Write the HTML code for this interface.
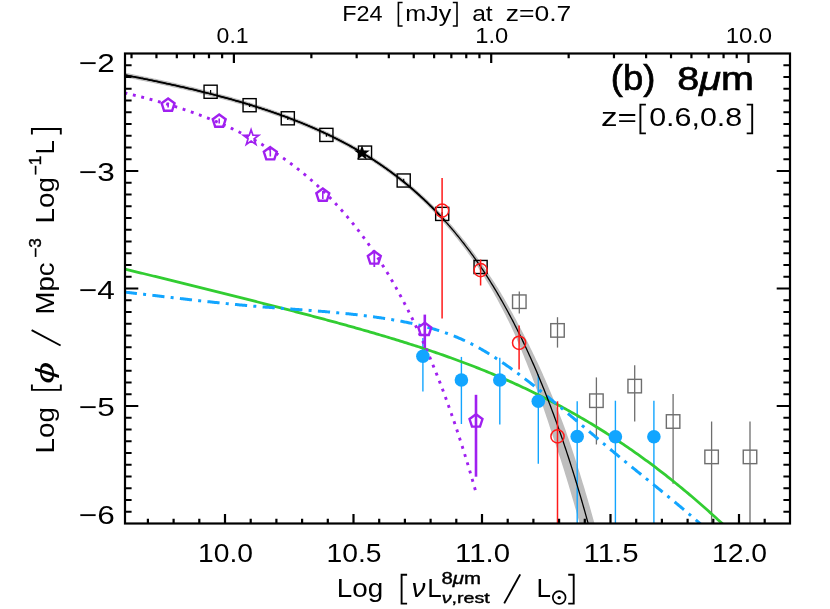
<!DOCTYPE html>
<html><head><meta charset="utf-8"><title>8um LF</title>
<style>html,body{margin:0;padding:0;background:#fff}svg{display:block;will-change:transform;transform:translateZ(0)}text{font-family:"Liberation Sans",sans-serif;fill:#000}</style></head><body>
<svg width="830" height="609" viewBox="0 0 830 609">
<rect width="830" height="609" fill="#fff"/>
<defs><clipPath id="c"><rect x="125" y="53.5" width="665" height="470"/></clipPath></defs>
<g clip-path="url(#c)" fill="none" stroke-linecap="butt">
<polygon points="121.57,76.76 122.54,76.94 123.51,77.13 124.48,77.31 125.45,77.5 126.42,77.68 127.38,77.87 128.35,78.05 129.32,78.24 130.29,78.43 131.26,78.62 132.23,78.8 133.2,78.99 134.17,79.18 135.14,79.37 136.11,79.56 137.08,79.75 138.04,79.94 139.01,80.13 139.98,80.33 140.95,80.52 141.92,80.71 142.89,80.9 143.86,81.1 144.83,81.29 145.8,81.49 146.76,81.68 147.73,81.88 148.7,82.08 149.67,82.28 150.64,82.47 151.61,82.67 152.58,82.87 153.55,83.07 154.52,83.27 155.48,83.47 156.45,83.67 157.42,83.88 158.39,84.08 159.36,84.28 160.33,84.49 161.3,84.69 162.27,84.9 163.23,85.1 164.2,85.31 165.17,85.52 166.14,85.73 167.11,85.94 168.08,86.15 169.05,86.36 170.02,86.57 170.98,86.78 171.95,86.99 172.92,87.2 173.89,87.42 174.86,87.63 175.83,87.85 176.8,88.06 177.76,88.28 178.73,88.5 179.7,88.72 180.67,88.93 181.64,89.15 182.61,89.37 183.58,89.6 184.54,89.82 185.51,90.04 186.48,90.26 187.45,90.49 188.42,90.71 189.39,90.94 190.36,91.17 191.32,91.39 192.29,91.62 193.26,91.85 194.23,92.08 195.2,92.31 196.17,92.55 197.13,92.78 198.1,93.01 199.07,93.25 200.04,93.48 201.01,93.72 201.98,93.96 202.94,94.19 203.91,94.43 204.88,94.67 205.85,94.92 206.82,95.16 207.78,95.4 208.75,95.65 209.72,95.89 210.69,96.14 211.66,96.38 212.63,96.63 213.59,96.88 214.56,97.13 215.53,97.38 216.5,97.63 217.47,97.89 218.43,98.14 219.4,98.4 220.37,98.65 221.34,98.91 222.31,99.17 223.27,99.43 224.24,99.69 225.21,99.95 226.18,100.22 227.15,100.48 228.11,100.75 229.08,101.01 230.05,101.28 231.02,101.55 231.98,101.82 232.95,102.09 233.92,102.36 234.89,102.64 235.86,102.91 236.82,103.19 237.79,103.47 238.76,103.75 239.73,104.03 240.69,104.31 241.66,104.59 242.63,104.88 243.6,105.16 244.56,105.45 245.53,105.74 246.5,106.03 247.47,106.32 248.44,106.61 249.4,106.9 250.37,107.2 251.34,107.5 252.31,107.79 253.27,108.09 254.24,108.4 255.21,108.7 256.17,109 257.14,109.31 258.11,109.61 259.08,109.92 260.04,110.23 261.01,110.54 261.98,110.86 262.95,111.17 263.91,111.49 264.88,111.81 265.85,112.13 266.81,112.45 267.78,112.77 268.75,113.1 269.72,113.42 270.68,113.75 271.65,114.08 272.62,114.41 273.58,114.75 274.55,115.08 275.52,115.42 276.49,115.76 277.45,116.1 278.42,116.44 279.39,116.78 280.35,117.13 281.32,117.48 282.29,117.83 283.25,118.18 284.22,118.53 285.19,118.89 286.15,119.25 287.12,119.61 288.09,119.97 289.05,120.33 290.02,120.7 290.99,121.06 291.95,121.43 292.92,121.8 293.89,122.18 294.85,122.55 295.82,122.93 296.79,123.31 297.75,123.69 298.72,124.08 299.69,124.47 300.65,124.86 301.62,125.25 302.59,125.64 303.55,126.04 304.52,126.43 305.49,126.83 306.45,127.24 307.42,127.64 308.38,128.05 309.35,128.46 310.32,128.87 311.28,129.29 312.25,129.7 313.22,130.12 314.18,130.55 315.15,130.97 316.11,131.4 317.08,131.83 318.05,132.26 319.01,132.7 319.98,133.13 320.95,133.57 321.91,134.02 322.88,134.46 323.84,134.91 324.81,135.36 325.78,135.82 326.74,136.28 327.71,136.74 328.67,137.2 329.64,137.66 330.6,138.13 331.57,138.6 332.54,139.08 333.5,139.56 334.47,140.04 335.43,140.52 336.4,141.01 337.37,141.5 338.33,141.99 339.3,142.49 340.26,142.98 341.23,143.49 342.19,143.99 343.16,144.5 344.13,145.01 345.09,145.53 346.06,146.05 347.02,146.57 347.99,147.1 348.95,147.63 349.92,148.16 350.88,148.69 351.85,149.23 352.82,149.78 353.78,150.32 354.75,150.88 355.71,151.43 356.68,151.99 357.64,152.55 358.61,153.11 359.57,153.68 360.54,154.26 361.5,154.83 362.47,155.41 363.44,156 364.4,156.59 365.37,157.18 366.33,157.78 367.3,158.38 368.26,158.98 369.23,159.59 370.19,160.2 371.16,160.82 372.12,161.44 373.09,162.07 374.05,162.7 375.02,163.33 375.98,163.97 376.95,164.61 377.91,165.26 378.88,165.91 379.84,166.57 380.81,167.23 381.77,167.9 382.74,168.57 383.7,169.25 384.67,169.93 385.63,170.62 386.6,171.31 387.56,172 388.53,172.7 389.49,173.41 390.45,174.12 391.42,174.83 392.38,175.55 393.35,176.28 394.31,177.01 395.28,177.75 396.24,178.49 397.21,179.24 398.17,179.99 399.13,180.75 400.1,181.51 401.06,182.28 402.03,183.05 402.99,183.83 403.96,184.62 404.92,185.41 405.89,186.2 406.85,187.01 407.81,187.81 408.78,188.63 409.74,189.45 410.71,190.28 411.67,191.11 412.64,191.95 413.6,192.79 414.57,193.64 415.53,194.5 416.49,195.36 417.46,196.23 418.42,197.11 419.39,197.99 420.35,198.88 421.32,199.78 422.28,200.68 423.25,201.59 424.21,202.51 425.18,203.43 426.14,204.36 427.1,205.3 428.07,206.24 429.03,207.19 430,208.15 430.96,209.12 431.93,210.09 432.89,211.07 433.86,212.06 434.82,213.05 435.79,214.06 436.75,215.07 437.72,216.09 438.68,217.11 439.64,218.16 440.59,219.21 441.55,220.26 442.5,221.33 443.46,222.4 444.41,223.48 445.37,224.57 446.33,225.67 447.28,226.78 448.24,227.89 449.19,229.02 450.15,230.15 451.1,231.29 452.06,232.44 453.01,233.6 453.97,234.76 454.92,235.94 455.88,237.13 456.83,238.32 457.79,239.52 458.74,240.74 459.7,241.96 460.66,243.19 461.61,244.43 462.57,245.68 463.52,246.94 464.48,248.21 465.43,249.49 466.39,250.78 467.34,252.08 468.3,253.39 469.25,254.71 470.2,256.04 471.16,257.38 472.11,258.73 473.07,260.09 474.02,261.46 474.98,262.85 475.93,264.24 476.89,265.64 477.84,267.06 478.78,268.5 479.72,269.95 480.66,271.41 481.59,272.88 482.53,274.36 483.47,275.86 484.4,277.37 485.34,278.88 486.28,280.41 487.21,281.96 488.15,283.51 489.09,285.08 490.02,286.66 490.96,288.25 491.89,289.85 492.83,291.47 493.75,293.11 494.68,294.75 495.6,296.41 496.52,298.09 497.45,299.78 498.37,301.48 499.29,303.19 500.22,304.92 501.14,306.66 502.06,308.42 502.98,310.18 503.9,311.97 504.82,313.77 505.74,315.58 506.66,317.4 507.58,319.24 508.5,321.1 509.42,322.97 510.34,324.85 511.26,326.75 512.14,328.69 513.02,330.64 513.89,332.6 514.77,334.59 515.64,336.58 516.51,338.6 517.38,340.63 518.26,342.67 519.13,344.73 520,346.81 520.86,348.91 521.73,351.02 522.6,353.15 523.47,355.29 524.33,357.45 525.2,359.63 526.09,361.82 526.97,364.02 527.85,366.24 528.74,368.48 529.62,370.74 530.5,373.02 531.38,375.31 532.27,377.62 533.16,379.95 534.06,382.29 534.95,384.66 535.84,387.04 536.74,389.44 537.63,391.86 538.52,394.3 539.42,396.76 540.31,399.24 541.21,401.74 542.1,404.27 542.99,406.81 543.88,409.37 544.77,411.95 545.66,414.56 546.55,417.19 547.44,419.83 548.33,422.5 549.22,425.19 550.11,427.91 551,430.64 551.89,433.4 552.81,436.17 553.76,438.95 554.72,441.75 555.68,444.58 556.63,447.43 557.59,450.31 558.55,453.21 559.5,456.13 560.46,459.08 561.42,462.05 562.37,465.05 563.33,468.07 564.29,471.12 565.24,474.19 566.2,477.29 567.16,480.42 568.11,483.57 569.07,486.75 570.03,489.95 570.99,493.19 571.94,496.45 572.9,499.73 573.86,503.05 574.82,506.39 575.78,509.76 576.73,513.16 577.69,516.59 578.65,520.05 579.61,523.54 580.57,527.05 581.52,530.6 582.49,534.17 583.45,537.78 584.42,541.41 585.38,545.08 586.35,548.78 600.28,545.14 599.31,541.42 598.34,537.73 597.36,534.07 596.39,530.43 595.41,526.83 594.44,523.26 593.46,519.72 592.48,516.2 591.5,512.72 590.52,509.26 589.54,505.84 588.56,502.44 587.58,499.07 586.61,495.73 585.63,492.41 584.65,489.12 583.67,485.86 582.69,482.63 581.71,479.42 580.73,476.24 579.75,473.09 578.77,469.96 577.79,466.86 576.81,463.78 575.83,460.73 574.85,457.71 573.87,454.71 572.89,451.73 571.91,448.78 570.93,445.85 569.95,442.94 568.97,440.06 567.99,437.21 567.01,434.38 566.03,431.57 565.03,428.79 564,426.04 562.97,423.32 561.94,420.62 560.91,417.94 559.88,415.28 558.85,412.65 557.82,410.04 556.79,407.45 555.76,404.88 554.73,402.33 553.71,399.8 552.68,397.3 551.65,394.81 550.63,392.35 549.6,389.9 548.58,387.48 547.55,385.07 546.52,382.69 545.5,380.33 544.47,377.98 543.44,375.66 542.42,373.35 541.38,371.07 540.35,368.8 539.32,366.56 538.28,364.33 537.25,362.12 536.21,359.93 535.18,357.76 534.14,355.61 533.12,353.47 532.11,351.34 531.09,349.24 530.07,347.15 529.05,345.07 528.04,343.02 527.02,340.98 526,338.96 524.98,336.96 523.96,334.97 522.94,333 521.92,331.04 520.9,329.11 519.87,327.19 518.85,325.28 517.83,323.39 516.85,321.5 515.86,319.62 514.87,317.76 513.88,315.92 512.89,314.09 511.9,312.27 510.91,310.47 509.92,308.68 508.93,306.91 507.94,305.16 506.95,303.41 505.96,301.68 504.96,299.97 503.97,298.27 502.98,296.58 501.99,294.91 501,293.25 500,291.6 499.01,289.97 498.02,288.35 497.02,286.75 496.02,285.16 495.01,283.59 494.01,282.02 493,280.48 492,278.94 491,277.42 489.99,275.9 488.99,274.41 487.99,272.92 486.98,271.44 485.98,269.98 484.98,268.53 483.98,267.09 482.97,265.66 481.97,264.24 480.99,262.83 480,261.42 479.02,260.03 478.03,258.64 477.05,257.27 476.06,255.91 475.08,254.55 474.09,253.21 473.11,251.88 472.12,250.56 471.14,249.25 470.15,247.96 469.17,246.67 468.18,245.39 467.2,244.12 466.21,242.86 465.23,241.61 464.24,240.37 463.26,239.14 462.27,237.92 461.29,236.71 460.3,235.51 459.32,234.32 458.33,233.14 457.35,231.96 456.37,230.8 455.38,229.64 454.4,228.5 453.41,227.36 452.43,226.23 451.44,225.11 450.46,224 449.47,222.9 448.49,221.8 447.51,220.72 446.52,219.64 445.54,218.57 444.55,217.51 443.57,216.46 442.59,215.41 441.6,214.38 440.62,213.34 439.65,212.31 438.67,211.29 437.7,210.28 436.72,209.27 435.75,208.27 434.77,207.28 433.8,206.3 432.82,205.32 431.85,204.35 430.87,203.39 429.9,202.43 428.92,201.49 427.95,200.55 426.97,199.61 426,198.69 425.02,197.77 424.05,196.85 423.07,195.95 422.09,195.05 421.12,194.15 420.14,193.27 419.17,192.39 418.19,191.52 417.22,190.65 416.24,189.79 415.27,188.93 414.29,188.09 413.32,187.24 412.34,186.41 411.37,185.58 410.39,184.75 409.41,183.94 408.44,183.12 407.46,182.32 406.49,181.52 405.51,180.72 404.54,179.94 403.56,179.15 402.59,178.38 401.61,177.6 400.64,176.84 399.66,176.08 398.68,175.32 397.71,174.57 396.73,173.83 395.76,173.09 394.78,172.35 393.81,171.63 392.83,170.9 391.86,170.18 390.88,169.47 389.91,168.76 388.93,168.06 387.96,167.36 386.98,166.67 386,165.98 385.03,165.29 384.05,164.61 383.08,163.94 382.1,163.27 381.13,162.61 380.15,161.94 379.18,161.29 378.2,160.63 377.23,159.99 376.25,159.34 375.28,158.7 374.31,158.07 373.33,157.44 372.36,156.81 371.38,156.19 370.41,155.58 369.43,154.96 368.46,154.35 367.48,153.75 366.51,153.15 365.53,152.55 364.56,151.96 363.59,151.37 362.61,150.78 361.64,150.2 360.66,149.63 359.69,149.05 358.71,148.48 357.74,147.92 356.76,147.36 355.79,146.8 354.82,146.24 353.84,145.69 352.87,145.14 351.89,144.6 350.92,144.06 349.94,143.52 348.97,142.99 348,142.46 347.02,141.94 346.05,141.41 345.07,140.89 344.1,140.38 343.12,139.86 342.15,139.36 341.18,138.85 340.2,138.35 339.23,137.85 338.25,137.35 337.28,136.86 336.31,136.37 335.33,135.88 334.36,135.39 333.38,134.91 332.41,134.44 331.44,133.96 330.46,133.49 329.49,133.02 328.51,132.55 327.54,132.09 326.57,131.63 325.59,131.17 324.62,130.72 323.64,130.26 322.67,129.81 321.7,129.37 320.72,128.92 319.75,128.48 318.77,128.04 317.8,127.61 316.83,127.18 315.85,126.74 314.88,126.32 313.91,125.89 312.93,125.47 311.96,125.05 310.99,124.63 310.01,124.21 309.04,123.8 308.06,123.39 307.09,122.98 306.12,122.58 305.14,122.17 304.17,121.77 303.2,121.37 302.22,120.98 301.25,120.58 300.28,120.19 299.3,119.8 298.33,119.41 297.36,119.03 296.38,118.64 295.41,118.26 294.44,117.88 293.46,117.51 292.49,117.13 291.52,116.76 290.54,116.39 289.57,116.02 288.6,115.66 287.63,115.29 286.65,114.93 285.68,114.57 284.71,114.21 283.73,113.85 282.76,113.5 281.79,113.15 280.81,112.8 279.84,112.45 278.87,112.1 277.9,111.76 276.92,111.41 275.95,111.07 274.98,110.73 274,110.39 273.03,110.06 272.06,109.72 271.09,109.39 270.11,109.06 269.14,108.73 268.17,108.4 267.19,108.08 266.22,107.75 265.25,107.43 264.28,107.11 263.3,106.79 262.33,106.48 261.36,106.16 260.39,105.85 259.41,105.53 258.44,105.22 257.47,104.91 256.5,104.6 255.52,104.3 254.55,103.99 253.58,103.69 252.61,103.39 251.63,103.09 250.66,102.79 249.69,102.49 248.72,102.19 247.74,101.9 246.77,101.6 245.8,101.31 244.83,101.02 243.86,100.73 242.88,100.44 241.91,100.16 240.94,99.87 239.97,99.59 238.99,99.31 238.02,99.02 237.05,98.74 236.08,98.46 235.11,98.19 234.13,97.91 233.16,97.64 232.19,97.36 231.22,97.09 230.25,96.82 229.27,96.55 228.3,96.28 227.33,96.01 226.36,95.74 225.39,95.48 224.41,95.21 223.44,94.95 222.47,94.69 221.5,94.43 220.53,94.17 219.55,93.91 218.58,93.65 217.61,93.39 216.64,93.14 215.67,92.88 214.69,92.63 213.72,92.38 212.75,92.13 211.78,91.88 210.81,91.63 209.84,91.38 208.86,91.13 207.89,90.88 206.92,90.64 205.95,90.4 204.98,90.15 204.01,89.91 203.03,89.67 202.06,89.43 201.09,89.19 200.12,88.95 199.15,88.71 198.18,88.47 197.21,88.24 196.23,88 195.26,87.77 194.29,87.54 193.32,87.3 192.35,87.07 191.38,86.84 190.4,86.61 189.43,86.38 188.46,86.15 187.49,85.93 186.52,85.7 185.55,85.47 184.58,85.25 183.6,85.02 182.63,84.8 181.66,84.58 180.69,84.36 179.72,84.13 178.75,83.91 177.78,83.69 176.81,83.48 175.83,83.26 174.86,83.04 173.89,82.82 172.92,82.61 171.95,82.39 170.98,82.18 170.01,81.96 169.04,81.75 168.06,81.54 167.09,81.33 166.12,81.12 165.15,80.91 164.18,80.7 163.21,80.49 162.24,80.28 161.27,80.07 160.3,79.86 159.32,79.66 158.35,79.45 157.38,79.25 156.41,79.04 155.44,78.84 154.47,78.63 153.5,78.43 152.53,78.23 151.56,78.03 150.59,77.83 149.61,77.63 148.64,77.43 147.67,77.23 146.7,77.03 145.73,76.83 144.76,76.63 143.79,76.44 142.82,76.24 141.85,76.04 140.88,75.85 139.9,75.65 138.93,75.46 137.96,75.27 136.99,75.07 136.02,74.88 135.05,74.69 134.08,74.5 133.11,74.31 132.14,74.12 131.17,73.93 130.2,73.74 129.23,73.55 128.25,73.36 127.28,73.17 126.31,72.98 125.34,72.8 124.37,72.61 123.4,72.42 122.43,72.24" fill="#bebebe" stroke="none"/>
<line x1="519.3" y1="291.6" x2="519.3" y2="313.4" stroke="#6e6e6e" stroke-width="1.3"/>
<line x1="557.5" y1="317.2" x2="557.5" y2="347.6" stroke="#6e6e6e" stroke-width="1.3"/>
<line x1="596.4" y1="377.4" x2="596.4" y2="444.5" stroke="#6e6e6e" stroke-width="1.3"/>
<line x1="634.7" y1="365.3" x2="634.7" y2="421.5" stroke="#6e6e6e" stroke-width="1.3"/>
<line x1="673.1" y1="393.9" x2="673.1" y2="483.7" stroke="#6e6e6e" stroke-width="1.3"/>
<line x1="711.6" y1="421.5" x2="711.6" y2="523.5" stroke="#6e6e6e" stroke-width="1.3"/>
<line x1="750" y1="421.5" x2="750" y2="523.5" stroke="#6e6e6e" stroke-width="1.3"/>
<line x1="422.9" y1="338" x2="422.9" y2="391.6" stroke="#12a5ff" stroke-width="1.4"/>
<line x1="461.4" y1="356.9" x2="461.4" y2="424" stroke="#12a5ff" stroke-width="1.4"/>
<line x1="499.8" y1="357.7" x2="499.8" y2="424.5" stroke="#12a5ff" stroke-width="1.4"/>
<line x1="538.3" y1="374.2" x2="538.3" y2="463.7" stroke="#12a5ff" stroke-width="1.4"/>
<line x1="577.2" y1="401.3" x2="577.2" y2="523.5" stroke="#12a5ff" stroke-width="1.4"/>
<line x1="615.4" y1="400.7" x2="615.4" y2="523.5" stroke="#12a5ff" stroke-width="1.4"/>
<line x1="653.9" y1="400.7" x2="653.9" y2="523.5" stroke="#12a5ff" stroke-width="1.4"/>
<path d="M125 269.06 L127.01 269.56 L129.02 270.05 L131.03 270.55 L133.04 271.04 L135.05 271.53 L137.06 272.03 L139.07 272.52 L141.08 273.02 L143.09 273.51 L145.1 274.01 L147.11 274.5 L149.12 275 L151.13 275.49 L153.14 275.99 L155.15 276.48 L157.16 276.98 L159.17 277.47 L161.18 277.97 L163.19 278.46 L165.2 278.96 L167.21 279.46 L169.22 279.95 L171.23 280.45 L173.24 280.94 L175.25 281.44 L177.26 281.94 L179.27 282.43 L181.28 282.93 L183.29 283.43 L185.3 283.92 L187.31 284.42 L189.32 284.92 L191.33 285.42 L193.34 285.91 L195.35 286.41 L197.36 286.91 L199.37 287.41 L201.38 287.91 L203.39 288.41 L205.4 288.9 L207.41 289.4 L209.42 289.9 L211.43 290.4 L213.44 290.9 L215.45 291.4 L217.46 291.9 L219.47 292.4 L221.48 292.91 L223.49 293.41 L225.5 293.91 L227.51 294.41 L229.52 294.91 L231.53 295.42 L233.54 295.92 L235.55 296.42 L237.56 296.93 L239.57 297.43 L241.58 297.94 L243.59 298.44 L245.6 298.95 L247.61 299.45 L249.62 299.96 L251.63 300.47 L253.64 300.97 L255.65 301.48 L257.66 301.99 L259.67 302.5 L261.68 303.01 L263.69 303.52 L265.7 304.03 L267.71 304.54 L269.72 305.05 L271.73 305.57 L273.74 306.08 L275.75 306.59 L277.76 307.11 L279.77 307.63 L281.78 308.14 L283.79 308.66 L285.8 309.18 L287.81 309.7 L289.82 310.21 L291.83 310.74 L293.84 311.26 L295.85 311.78 L297.86 312.3 L299.87 312.83 L301.88 313.35 L303.89 313.88 L305.9 314.4 L307.91 314.93 L309.92 315.46 L311.93 315.99 L313.94 316.53 L315.95 317.06 L317.96 317.59 L319.97 318.13 L321.98 318.66 L323.99 319.2 L326 319.74 L328.01 320.28 L330.02 320.83 L332.03 321.37 L334.04 321.92 L336.05 322.46 L338.06 323.01 L340.07 323.56 L342.08 324.11 L344.09 324.67 L346.1 325.22 L348.11 325.78 L350.12 326.34 L352.13 326.9 L354.14 327.46 L356.15 328.03 L358.16 328.59 L360.17 329.16 L362.18 329.73 L364.19 330.31 L366.2 330.88 L368.21 331.46 L370.22 332.04 L372.23 332.62 L374.24 333.21 L376.25 333.79 L378.26 334.38 L380.27 334.98 L382.28 335.57 L384.29 336.17 L386.3 336.77 L388.31 337.37 L390.32 337.98 L392.33 338.59 L394.34 339.2 L396.35 339.81 L398.36 340.43 L400.37 341.05 L402.38 341.68 L404.39 342.31 L406.4 342.94 L408.41 343.57 L410.42 344.21 L412.43 344.85 L414.44 345.49 L416.45 346.14 L418.46 346.79 L420.47 347.45 L422.48 348.11 L424.49 348.77 L426.51 349.44 L428.52 350.11 L430.53 350.79 L432.54 351.47 L434.55 352.15 L436.56 352.84 L438.57 353.53 L440.58 354.23 L442.59 354.93 L444.6 355.63 L446.61 356.34 L448.62 357.06 L450.63 357.78 L452.64 358.5 L454.65 359.23 L456.66 359.97 L458.67 360.71 L460.68 361.45 L462.69 362.2 L464.7 362.95 L466.71 363.71 L468.72 364.48 L470.73 365.25 L472.74 366.03 L474.75 366.81 L476.76 367.59 L478.77 368.39 L480.78 369.19 L482.79 369.99 L484.8 370.8 L486.81 371.62 L488.82 372.44 L490.83 373.27 L492.84 374.1 L494.85 374.94 L496.86 375.79 L498.87 376.64 L500.88 377.5 L502.89 378.37 L504.9 379.24 L506.91 380.12 L508.92 381.01 L510.93 381.9 L512.94 382.8 L514.95 383.71 L516.96 384.62 L518.97 385.54 L520.98 386.47 L522.99 387.4 L525 388.34 L527.01 389.29 L529.02 390.25 L531.03 391.21 L533.04 392.18 L535.05 393.16 L537.06 394.15 L539.07 395.14 L541.08 396.14 L543.09 397.15 L545.1 398.17 L547.11 399.19 L549.12 400.22 L551.13 401.26 L553.14 402.31 L555.15 403.37 L557.16 404.43 L559.17 405.51 L561.18 406.59 L563.19 407.68 L565.2 408.77 L567.21 409.88 L569.22 410.99 L571.23 412.12 L573.24 413.25 L575.25 414.39 L577.26 415.53 L579.27 416.69 L581.28 417.86 L583.29 419.03 L585.3 420.21 L587.31 421.41 L589.32 422.61 L591.33 423.82 L593.34 425.04 L595.35 426.26 L597.36 427.5 L599.37 428.75 L601.38 430 L603.39 431.26 L605.4 432.54 L607.41 433.82 L609.42 435.11 L611.43 436.41 L613.44 437.73 L615.45 439.05 L617.46 440.38 L619.47 441.72 L621.48 443.06 L623.49 444.42 L625.5 445.79 L627.51 447.17 L629.52 448.56 L631.53 449.95 L633.54 451.36 L635.55 452.78 L637.56 454.2 L639.57 455.64 L641.58 457.09 L643.59 458.54 L645.6 460.01 L647.61 461.48 L649.62 462.97 L651.63 464.47 L653.64 465.97 L655.65 467.49 L657.66 469.02 L659.67 470.55 L661.68 472.1 L663.69 473.66 L665.7 475.22 L667.71 476.8 L669.72 478.39 L671.73 479.99 L673.74 481.6 L675.75 483.22 L677.76 484.85 L679.77 486.49 L681.78 488.14 L683.79 489.8 L685.8 491.47 L687.81 493.15 L689.82 494.84 L691.83 496.55 L693.84 498.26 L695.85 499.99 L697.86 501.72 L699.87 503.47 L701.88 505.22 L703.89 506.99 L705.9 508.77 L707.91 510.56 L709.92 512.36 L711.93 514.17 L713.94 515.99 L715.95 517.82 L717.96 519.66 L719.97 521.52 L721.98 523.38 L723.99 525.26 L726 527.14" stroke="#32cd32" stroke-width="2.8"/>
<path d="M125 292.15 L126 292.26 L127 292.38 L127.99 292.49 L128.99 292.6 L129.99 292.72 L130.99 292.83 L131.99 292.95 L132.99 293.06 L133.98 293.17 L134.98 293.29 L135.98 293.4 L136.98 293.52 L137.98 293.63 L138.98 293.75 L139.97 293.86 L140.97 293.98 L141.97 294.09 L142.97 294.21 L143.97 294.32 L144.97 294.44 L145.96 294.56 L146.96 294.67 L147.96 294.79 L148.96 294.9 L149.96 295.02 L150.96 295.14 L151.95 295.25 L152.95 295.37 L153.95 295.49 L154.95 295.6 L155.95 295.72 L156.94 295.83 L157.94 295.95 L158.94 296.07 L159.94 296.18 L160.94 296.3 L161.94 296.42 L162.93 296.53 L163.93 296.65 L164.93 296.77 L165.93 296.88 L166.93 297 L167.93 297.12 L168.92 297.23 L169.92 297.35 L170.92 297.46 L171.92 297.58 L172.92 297.7 L173.92 297.81 L174.91 297.93 L175.91 298.04 L176.91 298.16 L177.91 298.27 L178.91 298.39 L179.91 298.5 L180.9 298.62 L181.9 298.73 L182.9 298.85 L183.9 298.96 L184.9 299.08 L185.89 299.19 L186.89 299.3 L187.89 299.42 L188.89 299.53 L189.89 299.64 L190.89 299.76 L191.88 299.87 L192.88 299.98 L193.88 300.1 L194.88 300.21 L195.88 300.32 L196.88 300.43 L197.87 300.54 L198.87 300.65 L199.87 300.76 L200.87 300.88 L201.87 300.99 L202.87 301.1 L203.86 301.21 L204.86 301.31 L205.86 301.42 L206.86 301.53 L207.86 301.64 L208.85 301.75 L209.85 301.86 L210.85 301.96 L211.85 302.07 L212.85 302.18 L213.85 302.28 L214.84 302.39 L215.84 302.5 L216.84 302.6 L217.84 302.71 L218.84 302.81 L219.84 302.91 L220.83 303.02 L221.83 303.12 L222.83 303.22 L223.83 303.33 L224.83 303.43 L225.83 303.53 L226.82 303.63 L227.82 303.73 L228.82 303.83 L229.82 303.93 L230.82 304.03 L231.82 304.13 L232.81 304.23 L233.81 304.32 L234.81 304.42 L235.81 304.52 L236.81 304.61 L237.8 304.71 L238.8 304.8 L239.8 304.9 L240.8 304.99 L241.8 305.08 L242.8 305.18 L243.79 305.27 L244.79 305.36 L245.79 305.45 L246.79 305.54 L247.79 305.63 L248.79 305.72 L249.78 305.81 L250.78 305.9 L251.78 305.98 L252.78 306.07 L253.78 306.16 L254.78 306.24 L255.77 306.33 L256.77 306.41 L257.77 306.49 L258.77 306.58 L259.77 306.66 L260.77 306.74 L261.76 306.82 L262.76 306.9 L263.76 306.98 L264.76 307.06 L265.76 307.14 L266.75 307.22 L267.75 307.3 L268.75 307.37 L269.75 307.45 L270.75 307.53 L271.75 307.61 L272.74 307.68 L273.74 307.76 L274.74 307.83 L275.74 307.91 L276.74 307.98 L277.74 308.06 L278.73 308.13 L279.73 308.21 L280.73 308.28 L281.73 308.36 L282.73 308.43 L283.73 308.5 L284.72 308.58 L285.72 308.65 L286.72 308.72 L287.72 308.8 L288.72 308.87 L289.72 308.94 L290.71 309.02 L291.71 309.09 L292.71 309.16 L293.71 309.24 L294.71 309.31 L295.7 309.38 L296.7 309.46 L297.7 309.53 L298.7 309.6 L299.7 309.68 L300.7 309.75 L301.69 309.82 L302.69 309.9 L303.69 309.97 L304.69 310.05 L305.69 310.12 L306.69 310.2 L307.68 310.27 L308.68 310.35 L309.68 310.43 L310.68 310.5 L311.68 310.58 L312.68 310.66 L313.67 310.74 L314.67 310.81 L315.67 310.89 L316.67 310.97 L317.67 311.05 L318.66 311.13 L319.66 311.21 L320.66 311.29 L321.66 311.38 L322.66 311.46 L323.66 311.54 L324.65 311.62 L325.65 311.71 L326.65 311.79 L327.65 311.88 L328.65 311.96 L329.65 312.05 L330.64 312.14 L331.64 312.23 L332.64 312.32 L333.64 312.41 L334.64 312.5 L335.64 312.59 L336.63 312.68 L337.63 312.77 L338.63 312.87 L339.63 312.96 L340.63 313.06 L341.63 313.15 L342.62 313.25 L343.62 313.35 L344.62 313.45 L345.62 313.55 L346.62 313.65 L347.61 313.75 L348.61 313.86 L349.61 313.96 L350.61 314.07 L351.61 314.17 L352.61 314.28 L353.6 314.39 L354.6 314.5 L355.6 314.61 L356.6 314.73 L357.6 314.84 L358.6 314.95 L359.59 315.07 L360.59 315.19 L361.59 315.31 L362.59 315.43 L363.59 315.55 L364.59 315.67 L365.58 315.8 L366.58 315.92 L367.58 316.05 L368.58 316.18 L369.58 316.31 L370.58 316.44 L371.57 316.57 L372.57 316.71 L373.57 316.84 L374.57 316.98 L375.57 317.12 L376.56 317.26 L377.56 317.4 L378.56 317.54 L379.56 317.69 L380.56 317.83 L381.56 317.98 L382.55 318.13 L383.55 318.29 L384.55 318.44 L385.55 318.59 L386.55 318.75 L387.55 318.91 L388.54 319.07 L389.54 319.23 L390.54 319.4 L391.54 319.56 L392.54 319.73 L393.54 319.9 L394.53 320.07 L395.53 320.25 L396.53 320.42 L397.53 320.6 L398.53 320.78 L399.53 320.96 L400.52 321.15 L401.52 321.33 L402.52 321.52 L403.52 321.71 L404.52 321.91 L405.51 322.1 L406.51 322.3 L407.51 322.51 L408.51 322.71 L409.51 322.92 L410.51 323.13 L411.5 323.34 L412.5 323.56 L413.5 323.78 L414.5 324 L415.5 324.23 L416.5 324.46 L417.49 324.69 L418.49 324.92 L419.49 325.16 L420.49 325.41 L421.49 325.65 L422.49 325.9 L423.48 326.16 L424.48 326.42 L425.48 326.68 L426.48 326.94 L427.48 327.21 L428.47 327.48 L429.47 327.76 L430.47 328.04 L431.47 328.33 L432.47 328.62 L433.47 328.91 L434.46 329.21 L435.46 329.51 L436.46 329.82 L437.46 330.13 L438.46 330.45 L439.46 330.77 L440.45 331.1 L441.45 331.43 L442.45 331.76 L443.45 332.1 L444.45 332.45 L445.45 332.8 L446.44 333.16 L447.44 333.52 L448.44 333.88 L449.44 334.25 L450.44 334.63 L451.44 335.01 L452.43 335.4 L453.43 335.79 L454.43 336.19 L455.43 336.6 L456.43 337.01 L457.42 337.42 L458.42 337.84 L459.42 338.27 L460.42 338.71 L461.42 339.14 L462.42 339.59 L463.41 340.04 L464.41 340.5 L465.41 340.96 L466.41 341.43 L467.41 341.91 L468.41 342.4 L469.4 342.89 L470.4 343.38 L471.4 343.88 L472.4 344.39 L473.4 344.91 L474.4 345.43 L475.39 345.96 L476.39 346.5 L477.39 347.04 L478.39 347.59 L479.39 348.15 L480.39 348.71 L481.38 349.28 L482.38 349.85 L483.38 350.43 L484.38 351.01 L485.38 351.6 L486.37 352.2 L487.37 352.8 L488.37 353.41 L489.37 354.02 L490.37 354.64 L491.37 355.27 L492.36 355.89 L493.36 356.53 L494.36 357.17 L495.36 357.81 L496.36 358.46 L497.36 359.12 L498.35 359.77 L499.35 360.44 L500.35 361.11 L501.35 361.78 L502.35 362.46 L503.35 363.14 L504.34 363.82 L505.34 364.51 L506.34 365.21 L507.34 365.91 L508.34 366.61 L509.34 367.31 L510.33 368.02 L511.33 368.74 L512.33 369.46 L513.33 370.18 L514.33 370.9 L515.32 371.63 L516.32 372.36 L517.32 373.09 L518.32 373.83 L519.32 374.57 L520.32 375.32 L521.31 376.06 L522.31 376.81 L523.31 377.57 L524.31 378.32 L525.31 379.08 L526.31 379.84 L527.3 380.61 L528.3 381.37 L529.3 382.14 L530.3 382.92 L531.3 383.69 L532.3 384.47 L533.29 385.25 L534.29 386.03 L535.29 386.82 L536.29 387.6 L537.29 388.39 L538.28 389.18 L539.28 389.98 L540.28 390.77 L541.28 391.57 L542.28 392.37 L543.28 393.17 L544.27 393.98 L545.27 394.79 L546.27 395.59 L547.27 396.4 L548.27 397.21 L549.27 398.03 L550.26 398.84 L551.26 399.66 L552.26 400.48 L553.26 401.3 L554.26 402.12 L555.26 402.94 L556.25 403.77 L557.25 404.59 L558.25 405.42 L559.25 406.25 L560.25 407.08 L561.25 407.91 L562.24 408.74 L563.24 409.58 L564.24 410.41 L565.24 411.25 L566.24 412.08 L567.23 412.92 L568.23 413.76 L569.23 414.6 L570.23 415.44 L571.23 416.28 L572.23 417.12 L573.22 417.96 L574.22 418.8 L575.22 419.65 L576.22 420.49 L577.22 421.33 L578.22 422.18 L579.21 423.02 L580.21 423.87 L581.21 424.72 L582.21 425.56 L583.21 426.41 L584.21 427.25 L585.2 428.1 L586.2 428.95 L587.2 429.79 L588.2 430.64 L589.2 431.49 L590.2 432.33 L591.19 433.18 L592.19 434.02 L593.19 434.87 L594.19 435.71 L595.19 436.56 L596.18 437.4 L597.18 438.25 L598.18 439.09 L599.18 439.94 L600.18 440.78 L601.18 441.62 L602.17 442.46 L603.17 443.3 L604.17 444.14 L605.17 444.98 L606.17 445.82 L607.17 446.66 L608.16 447.49 L609.16 448.33 L610.16 449.16 L611.16 450 L612.16 450.83 L613.16 451.66 L614.15 452.49 L615.15 453.32 L616.15 454.14 L617.15 454.97 L618.15 455.8 L619.15 456.62 L620.14 457.44 L621.14 458.26 L622.14 459.08 L623.14 459.9 L624.14 460.72 L625.13 461.54 L626.13 462.36 L627.13 463.17 L628.13 463.99 L629.13 464.8 L630.13 465.61 L631.12 466.43 L632.12 467.24 L633.12 468.05 L634.12 468.86 L635.12 469.67 L636.12 470.48 L637.11 471.29 L638.11 472.1 L639.11 472.91 L640.11 473.72 L641.11 474.53 L642.11 475.34 L643.1 476.15 L644.1 476.96 L645.1 477.77 L646.1 478.58 L647.1 479.38 L648.09 480.19 L649.09 481 L650.09 481.81 L651.09 482.62 L652.09 483.43 L653.09 484.24 L654.08 485.05 L655.08 485.86 L656.08 486.68 L657.08 487.49 L658.08 488.3 L659.08 489.11 L660.07 489.93 L661.07 490.74 L662.07 491.56 L663.07 492.38 L664.07 493.19 L665.07 494.01 L666.06 494.83 L667.06 495.65 L668.06 496.47 L669.06 497.29 L670.06 498.12 L671.06 498.94 L672.05 499.77 L673.05 500.59 L674.05 501.42 L675.05 502.25 L676.05 503.08 L677.04 503.91 L678.04 504.75 L679.04 505.58 L680.04 506.42 L681.04 507.26 L682.04 508.1 L683.03 508.94 L684.03 509.79 L685.03 510.63 L686.03 511.48 L687.03 512.33 L688.03 513.18 L689.02 514.03 L690.02 514.89 L691.02 515.74 L692.02 516.6 L693.02 517.47 L694.02 518.33 L695.01 519.2 L696.01 520.06 L697.01 520.93 L698.01 521.81 L699.01 522.68 L700.01 523.56 L701 524.44 L702 525.32 L703 526.21" stroke="#12a5ff" stroke-width="3" stroke-dasharray="12.2 6.2 3 6.32" stroke-dashoffset="0.19"/>
<path d="M125 93 L125.47 93.11 L125.95 93.22 L126.42 93.33 L126.89 93.44 L127.37 93.55 L127.84 93.66 L128.31 93.77 L128.79 93.88 L129.26 93.99 L129.73 94.11 L130.21 94.22 L130.68 94.33 L131.16 94.45 L131.63 94.56 L132.1 94.67 L132.58 94.79 L133.05 94.9 L133.52 95.02 L134 95.13 L134.47 95.25 L134.94 95.36 L135.42 95.48 L135.89 95.6 L136.36 95.71 L136.84 95.83 L137.31 95.95 L137.78 96.07 L138.26 96.19 L138.73 96.3 L139.2 96.42 L139.68 96.54 L140.15 96.66 L140.63 96.78 L141.1 96.9 L141.57 97.02 L142.05 97.14 L142.52 97.27 L142.99 97.39 L143.47 97.51 L143.94 97.63 L144.41 97.75 L144.89 97.88 L145.36 98 L145.83 98.13 L146.31 98.25 L146.78 98.37 L147.25 98.5 L147.73 98.62 L148.2 98.75 L148.67 98.88 L149.15 99 L149.62 99.13 L150.1 99.26 L150.57 99.38 L151.04 99.51 L151.52 99.64 L151.99 99.77 L152.46 99.9 L152.94 100.03 L153.41 100.16 L153.88 100.29 L154.36 100.42 L154.83 100.55 L155.3 100.68 L155.78 100.81 L156.25 100.94 L156.72 101.08 L157.2 101.21 L157.67 101.34 L158.14 101.48 L158.62 101.61 L159.09 101.75 L159.56 101.88 L160.04 102.02 L160.51 102.15 L160.99 102.29 L161.46 102.43 L161.93 102.56 L162.41 102.7 L162.88 102.84 L163.35 102.98 L163.83 103.12 L164.3 103.25 L164.77 103.39 L165.25 103.53 L165.72 103.67 L166.19 103.82 L166.67 103.96 L167.14 104.1 L167.61 104.24 L168.09 104.38 L168.56 104.53 L169.03 104.67 L169.51 104.81 L169.98 104.96 L170.46 105.1 L170.93 105.25 L171.4 105.39 L171.88 105.54 L172.35 105.69 L172.82 105.83 L173.3 105.98 L173.77 106.13 L174.24 106.28 L174.72 106.43 L175.19 106.58 L175.66 106.73 L176.14 106.88 L176.61 107.03 L177.08 107.18 L177.56 107.33 L178.03 107.48 L178.5 107.64 L178.98 107.79 L179.45 107.94 L179.92 108.1 L180.4 108.25 L180.87 108.41 L181.35 108.56 L181.82 108.72 L182.29 108.88 L182.77 109.03 L183.24 109.19 L183.71 109.35 L184.19 109.51 L184.66 109.67 L185.13 109.83 L185.61 109.99 L186.08 110.15 L186.55 110.31 L187.03 110.47 L187.5 110.64 L187.97 110.8 L188.45 110.96 L188.92 111.13 L189.39 111.29 L189.87 111.46 L190.34 111.62 L190.82 111.79 L191.29 111.95 L191.76 112.12 L192.24 112.29 L192.71 112.46 L193.18 112.63 L193.66 112.8 L194.13 112.97 L194.6 113.14 L195.08 113.31 L195.55 113.48 L196.02 113.65 L196.5 113.82 L196.97 114 L197.44 114.17 L197.92 114.35 L198.39 114.52 L198.86 114.7 L199.34 114.87 L199.81 115.05 L200.29 115.23 L200.76 115.4 L201.23 115.58 L201.71 115.76 L202.18 115.94 L202.65 116.12 L203.13 116.3 L203.6 116.49 L204.07 116.67 L204.55 116.85 L205.02 117.03 L205.49 117.22 L205.97 117.4 L206.44 117.59 L206.91 117.77 L207.39 117.96 L207.86 118.15 L208.33 118.33 L208.81 118.52 L209.28 118.71 L209.75 118.9 L210.23 119.09 L210.7 119.28 L211.18 119.48 L211.65 119.67 L212.12 119.86 L212.6 120.05 L213.07 120.25 L213.54 120.44 L214.02 120.64 L214.49 120.83 L214.96 121.03 L215.44 121.23 L215.91 121.43 L216.38 121.63 L216.86 121.83 L217.33 122.03 L217.8 122.23 L218.28 122.43 L218.75 122.63 L219.22 122.83 L219.7 123.04 L220.17 123.24 L220.65 123.45 L221.12 123.65 L221.59 123.86 L222.07 124.07 L222.54 124.28 L223.01 124.48 L223.49 124.69 L223.96 124.9 L224.43 125.12 L224.91 125.33 L225.38 125.54 L225.85 125.75 L226.33 125.97 L226.8 126.18 L227.27 126.4 L227.75 126.61 L228.22 126.83 L228.69 127.05 L229.17 127.27 L229.64 127.48 L230.12 127.7 L230.59 127.92 L231.06 128.15 L231.54 128.37 L232.01 128.59 L232.48 128.82 L232.96 129.04 L233.43 129.27 L233.9 129.49 L234.38 129.72 L234.85 129.95 L235.32 130.17 L235.8 130.4 L236.27 130.63 L236.74 130.87 L237.22 131.1 L237.69 131.33 L238.16 131.56 L238.64 131.8 L239.11 132.03 L239.58 132.27 L240.06 132.51 L240.53 132.74 L241.01 132.98 L241.48 133.22 L241.95 133.46 L242.43 133.7 L242.9 133.94 L243.37 134.19 L243.85 134.43 L244.32 134.68 L244.79 134.92 L245.27 135.17 L245.74 135.41 L246.21 135.66 L246.69 135.91 L247.16 136.16 L247.63 136.41 L248.11 136.66 L248.58 136.92 L249.05 137.17 L249.53 137.42 L250 137.68 L250.48 137.93 L250.95 138.19 L251.42 138.45 L251.9 138.71 L252.37 138.97 L252.84 139.23 L253.32 139.49 L253.79 139.75 L254.26 140.02 L254.74 140.28 L255.21 140.55 L255.68 140.81 L256.16 141.08 L256.63 141.35 L257.1 141.62 L257.58 141.89 L258.05 142.16 L258.52 142.43 L259 142.71 L259.47 142.98 L259.94 143.26 L260.42 143.53 L260.89 143.81 L261.37 144.09 L261.84 144.37 L262.31 144.65 L262.79 144.93 L263.26 145.21 L263.73 145.5 L264.21 145.78 L264.68 146.07 L265.15 146.35 L265.63 146.64 L266.1 146.93 L266.57 147.22 L267.05 147.51 L267.52 147.8 L267.99 148.1 L268.47 148.39 L268.94 148.69 L269.41 148.98 L269.89 149.28 L270.36 149.58 L270.84 149.88 L271.31 150.18 L271.78 150.48 L272.26 150.79 L272.73 151.09 L273.2 151.39 L273.68 151.7 L274.15 152.01 L274.62 152.32 L275.1 152.63 L275.57 152.94 L276.04 153.25 L276.52 153.56 L276.99 153.88 L277.46 154.19 L277.94 154.51 L278.41 154.83 L278.88 155.15 L279.36 155.47 L279.83 155.79 L280.31 156.11 L280.78 156.44 L281.25 156.76 L281.73 157.09 L282.2 157.42 L282.67 157.74 L283.15 158.08 L283.62 158.41 L284.09 158.74 L284.57 159.07 L285.04 159.41 L285.51 159.74 L285.99 160.08 L286.46 160.42 L286.93 160.76 L287.41 161.1 L287.88 161.45 L288.35 161.79 L288.83 162.13 L289.3 162.48 L289.77 162.83 L290.25 163.18 L290.72 163.53 L291.2 163.88 L291.67 164.23 L292.14 164.59 L292.62 164.95 L293.09 165.3 L293.56 165.66 L294.04 166.02 L294.51 166.38 L294.98 166.75 L295.46 167.11 L295.93 167.47 L296.4 167.84 L296.88 168.21 L297.35 168.58 L297.82 168.95 L298.3 169.32 L298.77 169.7 L299.24 170.07 L299.72 170.45 L300.19 170.83 L300.67 171.21 L301.14 171.59 L301.61 171.97 L302.09 172.35 L302.56 172.74 L303.03 173.13 L303.51 173.52 L303.98 173.91 L304.45 174.3 L304.93 174.69 L305.4 175.08 L305.87 175.48 L306.35 175.88 L306.82 176.28 L307.29 176.68 L307.77 177.08 L308.24 177.48 L308.71 177.89 L309.19 178.29 L309.66 178.7 L310.14 179.11 L310.61 179.52 L311.08 179.94 L311.56 180.35 L312.03 180.77 L312.5 181.19 L312.98 181.61 L313.45 182.03 L313.92 182.45 L314.4 182.87 L314.87 183.3 L315.34 183.73 L315.82 184.16 L316.29 184.59 L316.76 185.02 L317.24 185.45 L317.71 185.89 L318.18 186.33 L318.66 186.77 L319.13 187.21 L319.6 187.65 L320.08 188.09 L320.55 188.54 L321.03 188.99 L321.5 189.44 L321.97 189.89 L322.45 190.34 L322.92 190.8 L323.39 191.25 L323.87 191.71 L324.34 192.17 L324.81 192.64 L325.29 193.1 L325.76 193.56 L326.23 194.03 L326.71 194.5 L327.18 194.97 L327.65 195.45 L328.13 195.92 L328.6 196.4 L329.07 196.88 L329.55 197.36 L330.02 197.84 L330.5 198.32 L330.97 198.81 L331.44 199.3 L331.92 199.79 L332.39 200.28 L332.86 200.77 L333.34 201.27 L333.81 201.76 L334.28 202.26 L334.76 202.77 L335.23 203.27 L335.7 203.77 L336.18 204.28 L336.65 204.79 L337.12 205.3 L337.6 205.82 L338.07 206.33 L338.54 206.85 L339.02 207.37 L339.49 207.89 L339.96 208.41 L340.44 208.94 L340.91 209.47 L341.39 210 L341.86 210.53 L342.33 211.06 L342.81 211.6 L343.28 212.14 L343.75 212.68 L344.23 213.22 L344.7 213.76 L345.17 214.31 L345.65 214.86 L346.12 215.41 L346.59 215.96 L347.07 216.52 L347.54 217.08 L348.01 217.64 L348.49 218.2 L348.96 218.76 L349.43 219.33 L349.91 219.9 L350.38 220.47 L350.86 221.04 L351.33 221.62 L351.8 222.2 L352.28 222.78 L352.75 223.36 L353.22 223.94 L353.7 224.53 L354.17 225.12 L354.64 225.71 L355.12 226.3 L355.59 226.9 L356.06 227.5 L356.54 228.1 L357.01 228.7 L357.48 229.31 L357.96 229.92 L358.43 230.53 L358.9 231.14 L359.38 231.76 L359.85 232.38 L360.33 233 L360.8 233.62 L361.27 234.25 L361.75 234.87 L362.22 235.5 L362.69 236.14 L363.17 236.77 L363.64 237.41 L364.11 238.05 L364.59 238.7 L365.06 239.34 L365.53 239.99 L366.01 240.64 L366.48 241.29 L366.95 241.95 L367.43 242.61 L367.9 243.27 L368.37 243.93 L368.85 244.6 L369.32 245.27 L369.79 245.94 L370.27 246.62 L370.74 247.3 L371.22 247.98 L371.69 248.66 L372.16 249.34 L372.64 250.03 L373.11 250.72 L373.58 251.42 L374.06 252.11 L374.53 252.81 L375 253.52 L375.48 254.22 L375.95 254.93 L376.42 255.64 L376.9 256.35 L377.37 257.07 L377.84 257.79 L378.32 258.51 L378.79 259.24 L379.26 259.97 L379.74 260.7 L380.21 261.43 L380.69 262.17 L381.16 262.91 L381.63 263.65 L382.11 264.4 L382.58 265.15 L383.05 265.9 L383.53 266.65 L384 267.41 L384.47 268.17 L384.95 268.94 L385.42 269.7 L385.89 270.47 L386.37 271.25 L386.84 272.02 L387.31 272.8 L387.79 273.59 L388.26 274.37 L388.73 275.16 L389.21 275.96 L389.68 276.75 L390.16 277.55 L390.63 278.35 L391.1 279.16 L391.58 279.97 L392.05 280.78 L392.52 281.59 L393 282.41 L393.47 283.23 L393.94 284.06 L394.42 284.89 L394.89 285.72 L395.36 286.55 L395.84 287.39 L396.31 288.23 L396.78 289.08 L397.26 289.93 L397.73 290.78 L398.2 291.64 L398.68 292.5 L399.15 293.36 L399.62 294.22 L400.1 295.09 L400.57 295.97 L401.05 296.84 L401.52 297.72 L401.99 298.61 L402.47 299.5 L402.94 300.39 L403.41 301.28 L403.89 302.18 L404.36 303.08 L404.83 303.99 L405.31 304.9 L405.78 305.81 L406.25 306.73 L406.73 307.65 L407.2 308.57 L407.67 309.5 L408.15 310.43 L408.62 311.37 L409.09 312.31 L409.57 313.25 L410.04 314.2 L410.52 315.15 L410.99 316.1 L411.46 317.06 L411.94 318.02 L412.41 318.99 L412.88 319.96 L413.36 320.94 L413.83 321.91 L414.3 322.9 L414.78 323.88 L415.25 324.87 L415.72 325.87 L416.2 326.87 L416.67 327.87 L417.14 328.88 L417.62 329.89 L418.09 330.9 L418.56 331.92 L419.04 332.95 L419.51 333.97 L419.98 335 L420.46 336.04 L420.93 337.08 L421.41 338.13 L421.88 339.17 L422.35 340.23 L422.83 341.28 L423.3 342.35 L423.77 343.41 L424.25 344.48 L424.72 345.56 L425.19 346.64 L425.67 347.72 L426.14 348.81 L426.61 349.9 L427.09 351 L427.56 352.1 L428.03 353.21 L428.51 354.32 L428.98 355.43 L429.45 356.55 L429.93 357.68 L430.4 358.8 L430.88 359.94 L431.35 361.08 L431.82 362.22 L432.3 363.37 L432.77 364.52 L433.24 365.68 L433.72 366.84 L434.19 368 L434.66 369.18 L435.14 370.35 L435.61 371.53 L436.08 372.72 L436.56 373.91 L437.03 375.1 L437.5 376.31 L437.98 377.51 L438.45 378.72 L438.92 379.94 L439.4 381.16 L439.87 382.38 L440.35 383.61 L440.82 384.85 L441.29 386.09 L441.77 387.33 L442.24 388.59 L442.71 389.84 L443.19 391.1 L443.66 392.37 L444.13 393.64 L444.61 394.92 L445.08 396.2 L445.55 397.49 L446.03 398.78 L446.5 400.08 L446.97 401.38 L447.45 402.69 L447.92 404 L448.39 405.32 L448.87 406.65 L449.34 407.98 L449.81 409.32 L450.29 410.66 L450.76 412 L451.24 413.36 L451.71 414.72 L452.18 416.08 L452.66 417.45 L453.13 418.82 L453.6 420.2 L454.08 421.59 L454.55 422.98 L455.02 424.38 L455.5 425.79 L455.97 427.19 L456.44 428.61 L456.92 430.03 L457.39 431.46 L457.86 432.89 L458.34 434.33 L458.81 435.78 L459.28 437.23 L459.76 438.68 L460.23 440.15 L460.71 441.62 L461.18 443.09 L461.65 444.57 L462.13 446.06 L462.6 447.55 L463.07 449.05 L463.55 450.56 L464.02 452.07 L464.49 453.59 L464.97 455.11 L465.44 456.64 L465.91 458.18 L466.39 459.72 L466.86 461.27 L467.33 462.83 L467.81 464.39 L468.28 465.96 L468.75 467.54 L469.23 469.12 L469.7 470.71 L470.18 472.31 L470.65 473.91 L471.12 475.52 L471.6 477.13 L472.07 478.76 L472.54 480.38 L473.02 482.02 L473.49 483.66 L473.96 485.31 L474.44 486.97 L474.91 488.63 L475.38 490.3" stroke="#a020f0" stroke-width="2.9" stroke-dasharray="2.9 5.73" stroke-dashoffset="0.56"/>
<path d="M122 74.5 L122.97 74.68 L123.94 74.87 L124.91 75.05 L125.88 75.24 L126.85 75.43 L127.82 75.61 L128.79 75.8 L129.76 75.99 L130.73 76.18 L131.7 76.37 L132.67 76.55 L133.64 76.74 L134.61 76.93 L135.58 77.13 L136.55 77.32 L137.52 77.51 L138.49 77.7 L139.46 77.89 L140.43 78.09 L141.4 78.28 L142.37 78.48 L143.34 78.67 L144.31 78.87 L145.28 79.06 L146.25 79.26 L147.22 79.46 L148.19 79.65 L149.16 79.85 L150.13 80.05 L151.1 80.25 L152.07 80.45 L153.04 80.65 L154.01 80.85 L154.98 81.05 L155.95 81.26 L156.92 81.46 L157.89 81.66 L158.86 81.87 L159.83 82.07 L160.8 82.28 L161.77 82.49 L162.74 82.69 L163.71 82.9 L164.68 83.11 L165.65 83.32 L166.62 83.53 L167.59 83.74 L168.56 83.95 L169.53 84.16 L170.5 84.37 L171.47 84.59 L172.44 84.8 L173.41 85.01 L174.38 85.23 L175.35 85.44 L176.32 85.66 L177.29 85.88 L178.26 86.1 L179.23 86.32 L180.2 86.54 L181.17 86.76 L182.14 86.98 L183.11 87.2 L184.08 87.42 L185.05 87.65 L186.02 87.87 L186.99 88.09 L187.96 88.32 L188.93 88.55 L189.9 88.77 L190.87 89 L191.84 89.23 L192.81 89.46 L193.78 89.69 L194.75 89.93 L195.72 90.16 L196.69 90.39 L197.66 90.63 L198.63 90.86 L199.6 91.1 L200.57 91.34 L201.54 91.57 L202.51 91.81 L203.47 92.05 L204.44 92.29 L205.41 92.53 L206.38 92.78 L207.35 93.02 L208.32 93.27 L209.29 93.51 L210.26 93.76 L211.23 94.01 L212.2 94.26 L213.17 94.5 L214.14 94.76 L215.11 95.01 L216.08 95.26 L217.05 95.51 L218.02 95.77 L218.99 96.03 L219.96 96.28 L220.93 96.54 L221.9 96.8 L222.87 97.06 L223.84 97.32 L224.81 97.58 L225.78 97.85 L226.75 98.11 L227.72 98.38 L228.69 98.65 L229.66 98.92 L230.63 99.18 L231.6 99.46 L232.57 99.73 L233.54 100 L234.51 100.28 L235.48 100.55 L236.45 100.83 L237.42 101.11 L238.39 101.39 L239.36 101.67 L240.33 101.95 L241.3 102.23 L242.27 102.52 L243.24 102.8 L244.21 103.09 L245.18 103.38 L246.15 103.67 L247.12 103.96 L248.09 104.26 L249.06 104.55 L250.03 104.85 L251 105.14 L251.97 105.44 L252.94 105.74 L253.91 106.04 L254.88 106.35 L255.85 106.65 L256.82 106.96 L257.79 107.26 L258.76 107.57 L259.73 107.88 L260.7 108.2 L261.67 108.51 L262.64 108.83 L263.61 109.14 L264.58 109.46 L265.55 109.78 L266.52 110.1 L267.49 110.43 L268.46 110.75 L269.43 111.08 L270.4 111.41 L271.37 111.74 L272.34 112.07 L273.31 112.4 L274.28 112.74 L275.25 113.08 L276.22 113.42 L277.19 113.76 L278.16 114.1 L279.13 114.44 L280.1 114.79 L281.07 115.14 L282.04 115.49 L283.01 115.84 L283.98 116.19 L284.95 116.55 L285.92 116.91 L286.89 117.27 L287.86 117.63 L288.83 117.99 L289.8 118.36 L290.77 118.73 L291.74 119.1 L292.71 119.47 L293.68 119.84 L294.65 120.22 L295.62 120.6 L296.59 120.98 L297.56 121.36 L298.53 121.75 L299.5 122.13 L300.47 122.52 L301.44 122.92 L302.41 123.31 L303.38 123.71 L304.35 124.1 L305.32 124.5 L306.29 124.91 L307.26 125.31 L308.23 125.72 L309.2 126.13 L310.17 126.54 L311.14 126.96 L312.11 127.38 L313.08 127.8 L314.05 128.22 L315.02 128.65 L315.99 129.07 L316.96 129.5 L317.93 129.94 L318.9 130.37 L319.87 130.81 L320.84 131.25 L321.81 131.69 L322.78 132.14 L323.75 132.59 L324.72 133.04 L325.69 133.5 L326.66 133.95 L327.63 134.41 L328.6 134.88 L329.57 135.34 L330.54 135.81 L331.51 136.28 L332.48 136.76 L333.45 137.24 L334.42 137.72 L335.39 138.2 L336.36 138.69 L337.33 139.18 L338.3 139.67 L339.27 140.17 L340.24 140.67 L341.21 141.17 L342.18 141.68 L343.15 142.19 L344.12 142.7 L345.09 143.21 L346.06 143.73 L347.03 144.26 L348 144.78 L348.97 145.31 L349.94 145.84 L350.91 146.38 L351.88 146.92 L352.85 147.46 L353.82 148.01 L354.79 148.56 L355.76 149.12 L356.73 149.67 L357.7 150.24 L358.67 150.8 L359.64 151.37 L360.61 151.94 L361.58 152.52 L362.55 153.1 L363.52 153.69 L364.48 154.27 L365.45 154.87 L366.42 155.46 L367.39 156.06 L368.36 156.67 L369.33 157.28 L370.3 157.89 L371.27 158.51 L372.24 159.13 L373.21 159.76 L374.18 160.39 L375.15 161.02 L376.12 161.66 L377.09 162.3 L378.06 162.95 L379.03 163.6 L380 164.26 L380.97 164.92 L381.94 165.59 L382.91 166.26 L383.88 166.93 L384.85 167.61 L385.82 168.3 L386.79 168.99 L387.76 169.68 L388.73 170.38 L389.7 171.09 L390.67 171.8 L391.64 172.51 L392.61 173.23 L393.58 173.95 L394.55 174.68 L395.52 175.42 L396.49 176.16 L397.46 176.91 L398.43 177.66 L399.4 178.41 L400.37 179.17 L401.34 179.94 L402.31 180.71 L403.28 181.49 L404.25 182.28 L405.22 183.07 L406.19 183.86 L407.16 184.66 L408.13 185.47 L409.1 186.28 L410.07 187.1 L411.04 187.93 L412.01 188.76 L412.98 189.6 L413.95 190.44 L414.92 191.29 L415.89 192.15 L416.86 193.01 L417.83 193.88 L418.8 194.75 L419.77 195.63 L420.74 196.52 L421.71 197.41 L422.68 198.32 L423.65 199.22 L424.62 200.14 L425.59 201.06 L426.56 201.99 L427.53 202.92 L428.5 203.87 L429.47 204.82 L430.44 205.77 L431.41 206.74 L432.38 207.71 L433.35 208.69 L434.32 209.67 L435.29 210.66 L436.26 211.67 L437.23 212.67 L438.2 213.69 L439.17 214.71 L440.14 215.74 L441.11 216.78 L442.08 217.83 L443.05 218.89 L444.02 219.95 L444.99 221.02 L445.96 222.1 L446.93 223.19 L447.9 224.28 L448.87 225.39 L449.84 226.5 L450.81 227.62 L451.78 228.75 L452.75 229.89 L453.72 231.04 L454.69 232.2 L455.66 233.36 L456.63 234.54 L457.6 235.72 L458.57 236.91 L459.54 238.12 L460.51 239.33 L461.48 240.55 L462.45 241.78 L463.42 243.02 L464.39 244.27 L465.36 245.53 L466.33 246.8 L467.3 248.08 L468.27 249.37 L469.24 250.67 L470.21 251.98 L471.18 253.3 L472.15 254.63 L473.12 255.97 L474.09 257.32 L475.06 258.68 L476.03 260.05 L477 261.44 L477.97 262.83 L478.94 264.23 L479.91 265.65 L480.88 267.08 L481.85 268.52 L482.82 269.97 L483.79 271.43 L484.76 272.9 L485.73 274.39 L486.7 275.89 L487.67 277.39 L488.64 278.92 L489.61 280.45 L490.58 281.99 L491.55 283.55 L492.52 285.12 L493.49 286.7 L494.46 288.3 L495.43 289.91 L496.4 291.53 L497.37 293.16 L498.34 294.81 L499.31 296.47 L500.28 298.14 L501.25 299.83 L502.22 301.53 L503.19 303.24 L504.16 304.97 L505.13 306.71 L506.1 308.47 L507.07 310.24 L508.04 312.03 L509.01 313.82 L509.98 315.64 L510.95 317.47 L511.92 319.31 L512.89 321.17 L513.86 323.04 L514.83 324.93 L515.8 326.83 L516.77 328.75 L517.74 330.69 L518.71 332.64 L519.68 334.6 L520.65 336.58 L521.62 338.58 L522.59 340.6 L523.56 342.63 L524.53 344.68 L525.49 346.74 L526.46 348.82 L527.43 350.92 L528.4 353.03 L529.37 355.17 L530.34 357.32 L531.31 359.49 L532.28 361.67 L533.25 363.87 L534.22 366.1 L535.19 368.34 L536.16 370.59 L537.13 372.87 L538.1 375.17 L539.07 377.48 L540.04 379.81 L541.01 382.17 L541.98 384.54 L542.95 386.93 L543.92 389.34 L544.89 391.77 L545.86 394.22 L546.83 396.7 L547.8 399.19 L548.77 401.7 L549.74 404.23 L550.71 406.79 L551.68 409.36 L552.65 411.96 L553.62 414.58 L554.59 417.22 L555.56 419.88 L556.53 422.56 L557.5 425.27 L558.47 428 L559.44 430.75 L560.41 433.52 L561.38 436.32 L562.35 439.14 L563.32 441.98 L564.29 444.85 L565.26 447.74 L566.23 450.66 L567.2 453.6 L568.17 456.56 L569.14 459.55 L570.11 462.57 L571.08 465.61 L572.05 468.67 L573.02 471.76 L573.99 474.88 L574.96 478.02 L575.93 481.19 L576.9 484.38 L577.87 487.6 L578.84 490.85 L579.81 494.13 L580.78 497.43 L581.75 500.76 L582.72 504.12 L583.69 507.51 L584.66 510.92 L585.63 514.36 L586.6 517.84 L587.57 521.34 L588.54 524.87 L589.51 528.43 L590.48 532.02 L591.45 535.64 L592.42 539.3 L593.39 542.98 L594.36 546.69" stroke="#000" stroke-width="1.3"/>
<path d="M122 74.5 L122.97 74.68 L123.94 74.87 L124.91 75.05 L125.88 75.24 L126.85 75.43 L127.82 75.61 L128.79 75.8 L129.76 75.99 L130.73 76.18 L131.7 76.37 L132.67 76.55 L133.64 76.74 L134.61 76.93 L135.58 77.13 L136.55 77.32 L137.52 77.51 L138.49 77.7 L139.46 77.89 L140.43 78.09 L141.4 78.28 L142.37 78.48 L143.34 78.67 L144.31 78.87 L145.28 79.06 L146.25 79.26 L147.22 79.46 L148.19 79.65 L149.16 79.85 L150.13 80.05 L151.1 80.25 L152.07 80.45 L153.04 80.65 L154.01 80.85 L154.98 81.05 L155.95 81.26 L156.92 81.46 L157.89 81.66 L158.86 81.87 L159.83 82.07 L160.8 82.28 L161.77 82.49 L162.74 82.69 L163.71 82.9 L164.68 83.11 L165.65 83.32 L166.62 83.53 L167.59 83.74 L168.56 83.95 L169.53 84.16 L170.5 84.37 L171.47 84.59 L172.44 84.8 L173.41 85.01 L174.38 85.23 L175.35 85.44 L176.32 85.66 L177.29 85.88 L178.26 86.1 L179.23 86.32 L180.2 86.54 L181.17 86.76 L182.14 86.98 L183.11 87.2 L184.08 87.42 L185.05 87.65 L186.02 87.87 L186.99 88.09 L187.96 88.32 L188.93 88.55 L189.9 88.77 L190.87 89 L191.84 89.23 L192.81 89.46 L193.78 89.69 L194.75 89.93 L195.72 90.16 L196.69 90.39 L197.66 90.63 L198.63 90.86 L199.6 91.1 L200.57 91.34 L201.54 91.57 L202.51 91.81 L203.47 92.05 L204.44 92.29 L205.41 92.53 L206.38 92.78 L207.35 93.02 L208.32 93.27 L209.29 93.51 L210.26 93.76 L211.23 94.01 L212.2 94.26 L213.17 94.5 L214.14 94.76 L215.11 95.01 L216.08 95.26 L217.05 95.51 L218.02 95.77 L218.99 96.03 L219.96 96.28 L220.93 96.54 L221.9 96.8 L222.87 97.06 L223.84 97.32 L224.81 97.58 L225.78 97.85 L226.75 98.11 L227.72 98.38 L228.69 98.65 L229.66 98.92 L230.63 99.18 L231.6 99.46 L232.57 99.73 L233.54 100 L234.51 100.28 L235.48 100.55 L236.45 100.83 L237.42 101.11 L238.39 101.39 L239.36 101.67 L240.33 101.95 L241.3 102.23 L242.27 102.52 L243.24 102.8 L244.21 103.09 L245.18 103.38 L246.15 103.67 L247.12 103.96 L248.09 104.26 L249.06 104.55 L250.03 104.85 L251 105.14 L251.97 105.44 L252.94 105.74 L253.91 106.04 L254.88 106.35 L255.85 106.65 L256.82 106.96 L257.79 107.26 L258.76 107.57 L259.73 107.88 L260.7 108.2 L261.67 108.51 L262.64 108.83 L263.61 109.14 L264.58 109.46 L265.55 109.78 L266.52 110.1 L267.49 110.43 L268.46 110.75 L269.43 111.08 L270.4 111.41 L271.37 111.74 L272.34 112.07 L273.31 112.4 L274.28 112.74 L275.25 113.08 L276.22 113.42 L277.19 113.76 L278.16 114.1 L279.13 114.44 L280.1 114.79 L281.07 115.14 L282.04 115.49 L283.01 115.84 L283.98 116.19 L284.95 116.55 L285.92 116.91 L286.89 117.27 L287.86 117.63 L288.83 117.99 L289.8 118.36 L290.77 118.73 L291.74 119.1 L292.71 119.47 L293.68 119.84 L294.65 120.22 L295.62 120.6 L296.59 120.98 L297.56 121.36 L298.53 121.75 L299.5 122.13 L300.47 122.52 L301.44 122.92 L302.41 123.31 L303.38 123.71 L304.35 124.1 L305.32 124.5 L306.29 124.91 L307.26 125.31 L308.23 125.72 L309.2 126.13 L310.17 126.54 L311.14 126.96 L312.11 127.38 L313.08 127.8 L314.05 128.22 L315.02 128.65 L315.99 129.07 L316.96 129.5 L317.93 129.94 L318.9 130.37 L319.87 130.81 L320.84 131.25 L321.81 131.69 L322.78 132.14 L323.75 132.59 L324.72 133.04 L325.69 133.5 L326.66 133.95 L327.63 134.41 L328.6 134.88 L329.57 135.34 L330.54 135.81 L331.51 136.28 L332.48 136.76 L333.45 137.24 L334.42 137.72 L335.39 138.2 L336.36 138.69 L337.33 139.18 L338.3 139.67 L339.27 140.17 L340.24 140.67 L341.21 141.17 L342.18 141.68 L343.15 142.19 L344.12 142.7 L345.09 143.21 L346.06 143.73 L347.03 144.26 L348 144.78 L348.97 145.31 L349.94 145.84 L350.91 146.38 L351.88 146.92 L352.85 147.46 L353.82 148.01 L354.79 148.56 L355.76 149.12 L356.73 149.67 L357.7 150.24 L358.67 150.8 L359.64 151.37 L360.61 151.94 L361.58 152.52 L362.55 153.1 L363.52 153.69 L364.48 154.27 L365.45 154.87 L366.42 155.46 L367.39 156.06 L368.36 156.67 L369.33 157.28 L370.3 157.89 L371.27 158.51 L372.24 159.13 L373.21 159.76 L374.18 160.39 L375.15 161.02 L376.12 161.66 L377.09 162.3 L378.06 162.95 L379.03 163.6 L380 164.26 L380.97 164.92 L381.94 165.59 L382.91 166.26 L383.88 166.93 L384.85 167.61 L385.82 168.3 L386.79 168.99 L387.76 169.68 L388.73 170.38 L389.7 171.09 L390.67 171.8 L391.64 172.51 L392.61 173.23 L393.58 173.95 L394.55 174.68 L395.52 175.42 L396.49 176.16 L397.46 176.91 L398.43 177.66 L399.4 178.41 L400.37 179.17 L401.34 179.94 L402.31 180.71 L403.28 181.49 L404.25 182.28 L405.22 183.07 L406.19 183.86 L407.16 184.66 L408.13 185.47 L409.1 186.28 L410.07 187.1 L411.04 187.93 L412.01 188.76 L412.98 189.6 L413.95 190.44 L414.92 191.29 L415.89 192.15 L416.86 193.01 L417.83 193.88 L418.8 194.75 L419.77 195.63 L420.74 196.52 L421.71 197.41 L422.68 198.32 L423.65 199.22 L424.62 200.14 L425.59 201.06 L426.56 201.99 L427.53 202.92 L428.5 203.87 L429.47 204.82 L430.44 205.77 L431.41 206.74 L432.38 207.71 L433.35 208.69 L434.32 209.67 L435.29 210.66 L436.26 211.67 L437.23 212.67 L438.2 213.69 L439.17 214.71 L440.14 215.74 L441.11 216.78 L442.08 217.83 L443.05 218.89 L444.02 219.95 L444.99 221.02" stroke="#000" stroke-width="1.75"/>
<circle cx="422.9" cy="356.2" r="6.8" fill="#12a5ff" stroke="none"/>
<circle cx="461.4" cy="380" r="6.8" fill="#12a5ff" stroke="none"/>
<circle cx="499.8" cy="380" r="6.8" fill="#12a5ff" stroke="none"/>
<circle cx="538.3" cy="401.3" r="6.8" fill="#12a5ff" stroke="none"/>
<circle cx="577.2" cy="436.5" r="6.8" fill="#12a5ff" stroke="none"/>
<circle cx="615.4" cy="436.7" r="6.8" fill="#12a5ff" stroke="none"/>
<circle cx="653.9" cy="436.7" r="6.8" fill="#12a5ff" stroke="none"/>
<rect x="512.55" y="294.95" width="13.5" height="13.5" stroke="#6e6e6e" stroke-width="1.4"/>
<rect x="550.75" y="323.65" width="13.5" height="13.5" stroke="#6e6e6e" stroke-width="1.4"/>
<rect x="589.65" y="393.95" width="13.5" height="13.5" stroke="#6e6e6e" stroke-width="1.4"/>
<rect x="627.95" y="379.35" width="13.5" height="13.5" stroke="#6e6e6e" stroke-width="1.4"/>
<rect x="666.35" y="414.75" width="13.5" height="13.5" stroke="#6e6e6e" stroke-width="1.4"/>
<rect x="704.85" y="450.15" width="13.5" height="13.5" stroke="#6e6e6e" stroke-width="1.4"/>
<rect x="743.25" y="450.15" width="13.5" height="13.5" stroke="#6e6e6e" stroke-width="1.4"/>
<rect x="204.05" y="85.2" width="13.1" height="13.1" stroke="#000" stroke-width="1.4"/>
<line x1="210.6" y1="89.95" x2="210.6" y2="93.55" stroke="#000" stroke-width="1.2"/>
<rect x="243.05" y="98.65" width="13.1" height="13.1" stroke="#000" stroke-width="1.4"/>
<line x1="249.6" y1="103.4" x2="249.6" y2="107" stroke="#000" stroke-width="1.2"/>
<rect x="281.25" y="111.75" width="13.1" height="13.1" stroke="#000" stroke-width="1.4"/>
<line x1="287.8" y1="116.5" x2="287.8" y2="120.1" stroke="#000" stroke-width="1.2"/>
<rect x="319.85" y="128.35" width="13.1" height="13.1" stroke="#000" stroke-width="1.4"/>
<line x1="326.4" y1="133.1" x2="326.4" y2="136.7" stroke="#000" stroke-width="1.2"/>
<rect x="358.45" y="146.05" width="13.1" height="13.1" stroke="#000" stroke-width="1.4"/>
<line x1="365" y1="150.8" x2="365" y2="154.4" stroke="#000" stroke-width="1.2"/>
<rect x="397.15" y="173.95" width="13.1" height="13.1" stroke="#000" stroke-width="1.4"/>
<line x1="403.7" y1="178.7" x2="403.7" y2="182.3" stroke="#000" stroke-width="1.2"/>
<rect x="435.65" y="207.35" width="13.1" height="13.1" stroke="#000" stroke-width="1.4"/>
<line x1="442.2" y1="212.1" x2="442.2" y2="215.7" stroke="#000" stroke-width="1.2"/>
<rect x="474.05" y="260.45" width="13.1" height="13.1" stroke="#000" stroke-width="1.4"/>
<line x1="480.6" y1="265.2" x2="480.6" y2="268.8" stroke="#000" stroke-width="1.2"/>
<polygon points="362,144.9 363.88,150.51 369.8,150.57 365.04,154.09 366.82,159.73 362,156.3 357.18,159.73 358.96,154.09 354.2,150.57 360.12,150.51" fill="#000" stroke="none"/>
<line x1="442.1" y1="178" x2="442.1" y2="318.4" stroke="#ff1a1a" stroke-width="1.5"/>
<circle cx="442.1" cy="210.6" r="6.6" stroke="#ff1a1a" stroke-width="1.5"/>
<line x1="480.6" y1="259.5" x2="480.6" y2="285.5" stroke="#ff1a1a" stroke-width="1.5"/>
<circle cx="480.6" cy="270.1" r="6.6" stroke="#ff1a1a" stroke-width="1.5"/>
<line x1="519.1" y1="325.5" x2="519.1" y2="369.6" stroke="#ff1a1a" stroke-width="1.5"/>
<circle cx="519.1" cy="342.8" r="6.6" stroke="#ff1a1a" stroke-width="1.5"/>
<line x1="557.5" y1="401.3" x2="557.5" y2="523.5" stroke="#ff1a1a" stroke-width="1.5"/>
<circle cx="557.5" cy="436.4" r="6.6" stroke="#ff1a1a" stroke-width="1.5"/>
<line x1="168.1" y1="102.5" x2="168.1" y2="107.5" stroke="#a020f0" stroke-width="1.6"/>
<polygon points="168.1,98.5 174.57,103.2 172.1,110.8 164.1,110.8 161.63,103.2" stroke="#a020f0" stroke-width="2.4" stroke-linejoin="miter"/>
<line x1="219.2" y1="118.5" x2="219.2" y2="123.5" stroke="#a020f0" stroke-width="1.6"/>
<polygon points="219.2,114.5 225.67,119.2 223.2,126.8 215.2,126.8 212.73,119.2" stroke="#a020f0" stroke-width="2.4" stroke-linejoin="miter"/>
<line x1="270.3" y1="150.5" x2="270.3" y2="156.5" stroke="#a020f0" stroke-width="1.6"/>
<polygon points="270.3,147.1 276.77,151.8 274.3,159.4 266.3,159.4 263.83,151.8" stroke="#a020f0" stroke-width="2.4" stroke-linejoin="miter"/>
<line x1="322.8" y1="191" x2="322.8" y2="199" stroke="#a020f0" stroke-width="1.6"/>
<polygon points="322.8,188.5 329.27,193.2 326.8,200.8 318.8,200.8 316.33,193.2" stroke="#a020f0" stroke-width="2.4" stroke-linejoin="miter"/>
<line x1="374.3" y1="250" x2="374.3" y2="267" stroke="#a020f0" stroke-width="1.8"/>
<polygon points="374.3,251.3 380.77,256 378.3,263.6 370.3,263.6 367.83,256" stroke="#a020f0" stroke-width="2.4" stroke-linejoin="miter"/>
<line x1="424.8" y1="314.6" x2="424.8" y2="348.1" stroke="#a020f0" stroke-width="2.6"/>
<polygon points="424.8,322.7 431.27,327.4 428.8,335 420.8,335 418.33,327.4" stroke="#a020f0" stroke-width="2.4" stroke-linejoin="miter"/>
<line x1="476" y1="394.8" x2="476" y2="476.7" stroke="#a020f0" stroke-width="2.6"/>
<polygon points="476,414.3 482.47,419 480,426.6 472,426.6 469.53,419" stroke="#a020f0" stroke-width="2.4" stroke-linejoin="miter"/>
<polygon points="251.1,129.7 252.98,135.21 258.8,135.3 254.14,138.79 255.86,144.35 251.1,141 246.34,144.35 248.06,138.79 243.4,135.3 249.22,135.21" stroke="#a020f0" stroke-width="1.7"/>
</g>
<g stroke="#000" stroke-width="2.2" fill="none" stroke-linecap="butt">
<rect x="125" y="53.5" width="665" height="470"/>
<path d="M147.9 523.5v-4.7M173.6 523.5v-4.7M199.3 523.5v-4.7M225 523.5v-9.4M250.7 523.5v-4.7M276.4 523.5v-4.7M302.1 523.5v-4.7M327.8 523.5v-4.7M353.5 523.5v-9.4M379.2 523.5v-4.7M404.9 523.5v-4.7M430.6 523.5v-4.7M456.3 523.5v-4.7M482 523.5v-9.4M507.7 523.5v-4.7M533.4 523.5v-4.7M559.1 523.5v-4.7M584.8 523.5v-4.7M610.5 523.5v-9.4M636.2 523.5v-4.7M661.9 523.5v-4.7M687.6 523.5v-4.7M713.3 523.5v-4.7M739 523.5v-9.4M764.7 523.5v-4.7M131.51 53.5v4.7M156.44 53.5v4.7M176.82 53.5v4.7M194.04 53.5v4.7M208.97 53.5v4.7M222.13 53.5v4.7M233.9 53.5v9.4M311.36 53.5v4.7M356.66 53.5v4.7M388.81 53.5v4.7M413.74 53.5v4.7M434.12 53.5v4.7M451.34 53.5v4.7M466.27 53.5v4.7M479.43 53.5v4.7M491.2 53.5v9.4M568.66 53.5v4.7M613.96 53.5v4.7M646.11 53.5v4.7M671.04 53.5v4.7M691.42 53.5v4.7M708.64 53.5v4.7M723.57 53.5v4.7M736.73 53.5v4.7M748.5 53.5v9.4M125 65.25h6.6M790 65.25h-6.6M125 77h6.6M790 77h-6.6M125 88.75h6.6M790 88.75h-6.6M125 100.5h6.6M790 100.5h-6.6M125 112.25h6.6M790 112.25h-6.6M125 124h6.6M790 124h-6.6M125 135.75h6.6M790 135.75h-6.6M125 147.5h6.6M790 147.5h-6.6M125 159.25h6.6M790 159.25h-6.6M125 171h13.3M790 171h-13.3M125 182.75h6.6M790 182.75h-6.6M125 194.5h6.6M790 194.5h-6.6M125 206.25h6.6M790 206.25h-6.6M125 218h6.6M790 218h-6.6M125 229.75h6.6M790 229.75h-6.6M125 241.5h6.6M790 241.5h-6.6M125 253.25h6.6M790 253.25h-6.6M125 265h6.6M790 265h-6.6M125 276.75h6.6M790 276.75h-6.6M125 288.5h13.3M790 288.5h-13.3M125 300.25h6.6M790 300.25h-6.6M125 312h6.6M790 312h-6.6M125 323.75h6.6M790 323.75h-6.6M125 335.5h6.6M790 335.5h-6.6M125 347.25h6.6M790 347.25h-6.6M125 359h6.6M790 359h-6.6M125 370.75h6.6M790 370.75h-6.6M125 382.5h6.6M790 382.5h-6.6M125 394.25h6.6M790 394.25h-6.6M125 406h13.3M790 406h-13.3M125 417.75h6.6M790 417.75h-6.6M125 429.5h6.6M790 429.5h-6.6M125 441.25h6.6M790 441.25h-6.6M125 453h6.6M790 453h-6.6M125 464.75h6.6M790 464.75h-6.6M125 476.5h6.6M790 476.5h-6.6M125 488.25h6.6M790 488.25h-6.6M125 500h6.6M790 500h-6.6M125 511.75h6.6M790 511.75h-6.6"/>
</g>
<text x="225.6" y="562.4" font-size="26" text-anchor="middle" textLength="55" lengthAdjust="spacingAndGlyphs">10.0</text>
<text x="354.1" y="562.4" font-size="26" text-anchor="middle" textLength="55" lengthAdjust="spacingAndGlyphs">10.5</text>
<text x="482.6" y="562.4" font-size="26" text-anchor="middle" textLength="55" lengthAdjust="spacingAndGlyphs">11.0</text>
<text x="611.1" y="562.4" font-size="26" text-anchor="middle" textLength="55" lengthAdjust="spacingAndGlyphs">11.5</text>
<text x="739.6" y="562.4" font-size="26" text-anchor="middle" textLength="55" lengthAdjust="spacingAndGlyphs">12.0</text>
<text x="232.6" y="42.5" font-size="21.5" text-anchor="middle" textLength="32" lengthAdjust="spacingAndGlyphs">0.1</text>
<text x="491.8" y="42.5" font-size="21.5" text-anchor="middle" textLength="33" lengthAdjust="spacingAndGlyphs">1.0</text>
<text x="748.9" y="42.5" font-size="21.5" text-anchor="middle" textLength="46.5" lengthAdjust="spacingAndGlyphs">10.0</text>
<text x="114.8" y="72.3" font-size="26" text-anchor="end" textLength="36" lengthAdjust="spacingAndGlyphs">−2</text>
<text x="114.8" y="180.7" font-size="26" text-anchor="end" textLength="36" lengthAdjust="spacingAndGlyphs">−3</text>
<text x="114.8" y="298.8" font-size="26" text-anchor="end" textLength="36" lengthAdjust="spacingAndGlyphs">−4</text>
<text x="114.8" y="415.6" font-size="26" text-anchor="end" textLength="36" lengthAdjust="spacingAndGlyphs">−5</text>
<text x="114.8" y="524" font-size="26" text-anchor="end" textLength="36" lengthAdjust="spacingAndGlyphs">−6</text>
<text x="342.2" y="20.7" font-size="21.5" textLength="40.5" lengthAdjust="spacingAndGlyphs">F24</text>
<path d="M402.6 2.5h-4.2v23.5h4.2" fill="none" stroke="#000" stroke-width="1.6"/>
<text x="405.3" y="20.7" font-size="21.5" textLength="46" lengthAdjust="spacingAndGlyphs">mJy</text>
<path d="M452.8 2.5h4.2v23.5h-4.2" fill="none" stroke="#000" stroke-width="1.6"/>
<text x="472.2" y="20.7" font-size="21.5" textLength="20.5" lengthAdjust="spacingAndGlyphs">at</text>
<text x="505.8" y="20.7" font-size="21.5" textLength="65.5" lengthAdjust="spacingAndGlyphs">z=0.7</text>
<text x="610.8" y="90" font-size="35" textLength="44.5" lengthAdjust="spacingAndGlyphs" stroke="#000" stroke-width="0.7">(b)</text>
<text x="677.3" y="90" font-size="33.5" textLength="76.5" lengthAdjust="spacingAndGlyphs" stroke="#000" stroke-width="0.7">8<tspan font-style="italic">μ</tspan>m</text>
<text x="601" y="126.4" font-size="26" textLength="36" lengthAdjust="spacingAndGlyphs">z=</text>
<path d="M645.9 104.6h-5.5v28.8h5.5" fill="none" stroke="#000" stroke-width="1.9"/>
<text x="649.2" y="126.4" font-size="26" textLength="93" lengthAdjust="spacingAndGlyphs">0.6,0.8</text>
<path d="M746.7 104.6h5.5v28.8h-5.5" fill="none" stroke="#000" stroke-width="1.9"/>
<text x="336.8" y="597" font-size="26" textLength="46.5" lengthAdjust="spacingAndGlyphs">Log</text>
<path d="M407.1 574.7h-5.5v28.9h5.5" fill="none" stroke="#000" stroke-width="1.9"/>
<text x="411.6" y="597" font-size="26" textLength="14" lengthAdjust="spacingAndGlyphs" font-style="italic">ν</text>
<text x="427.2" y="597" font-size="26">L</text>
<text x="441.4" y="583.8" font-size="16.4" textLength="39.5" lengthAdjust="spacingAndGlyphs" stroke="#000" stroke-width="0.4">8<tspan font-style="italic">μ</tspan>m</text>
<text x="441.8" y="603.4" font-size="15.5" textLength="48" lengthAdjust="spacingAndGlyphs" stroke="#000" stroke-width="0.4"><tspan font-style="italic">ν</tspan>,rest</text>
<path d="M504.2 603.4L520.2 574.4" fill="none" stroke="#000" stroke-width="1.9"/>
<text x="536.5" y="597" font-size="26">L</text>
<circle cx="559.2" cy="597.6" r="6.4" fill="none" stroke="#000" stroke-width="1.7"/><circle cx="559.2" cy="597.6" r="1.7" fill="#000"/>
<path d="M568.2 574.7h5.5v28.9h-5.5" fill="none" stroke="#000" stroke-width="1.9"/>
<g transform="translate(54.2 452) rotate(-90)">
<text x="-1.4" y="0" font-size="26" textLength="46.5" lengthAdjust="spacingAndGlyphs">Log</text>
<path d="M67.6 -22.3h-5.5v28.9h5.5" fill="none" stroke="#000" stroke-width="1.9"/>
<text x="68.2" y="0" font-size="26" textLength="22" lengthAdjust="spacingAndGlyphs" font-style="italic">ϕ</text>
<path d="M106.5 6.4L121.8 -22.6" fill="none" stroke="#000" stroke-width="1.9"/>
<text x="137.5" y="0" font-size="26" textLength="52" lengthAdjust="spacingAndGlyphs">Mpc</text>
<text x="194.2" y="-12.8" font-size="16.4" textLength="19.5" lengthAdjust="spacingAndGlyphs" stroke="#000" stroke-width="0.4">−3</text>
<text x="228.4" y="0" font-size="26" textLength="46.5" lengthAdjust="spacingAndGlyphs">Log</text>
<text x="276.7" y="-12.8" font-size="16.4" textLength="19.5" lengthAdjust="spacingAndGlyphs" stroke="#000" stroke-width="0.4">−1</text>
<text x="297.5" y="0" font-size="26">L</text>
<path d="M317.5 -22.3h5.5v28.9h-5.5" fill="none" stroke="#000" stroke-width="1.9"/>
</g>
</svg></body></html>
